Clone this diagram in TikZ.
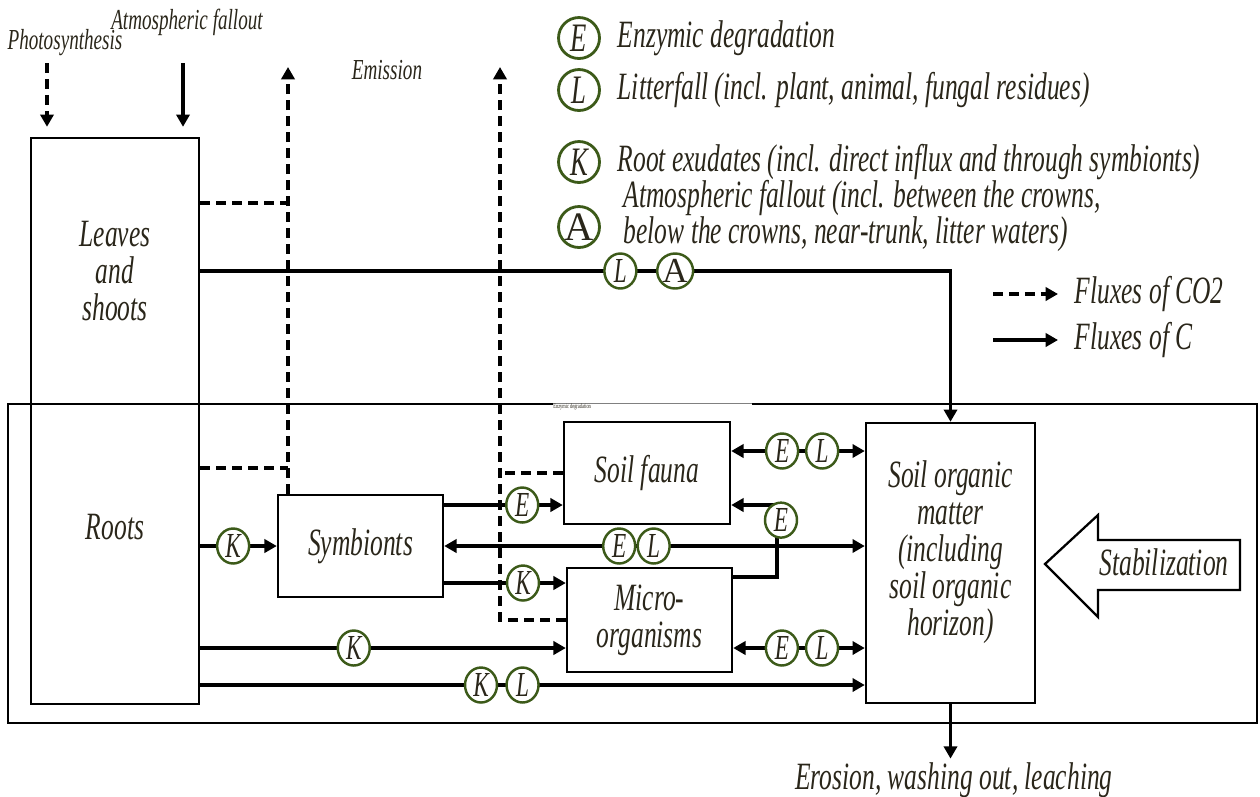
\documentclass[tikz,border=0pt]{standalone}
\usepackage{fontspec}
\setmainfont{Liberation Serif}[FakeStretch=0.66]
\newfontfamily\wideserif{Liberation Serif}
\usepackage{tikz}
\usetikzlibrary{arrows.meta,positioning,shapes.geometric}
\definecolor{ink}{RGB}{42,38,26}
\definecolor{ring}{RGB}{60,90,25}

\begin{document}
\begin{tikzpicture}[
  x=0.02cm, y=-0.02cm,
  box/.style={draw,line width=1.4pt,inner sep=0pt},
  lbl/.style={font=\fontsize{22}{21}\selectfont\itshape,text=ink,align=center,inner sep=2pt},
  small/.style={font=\fontsize{16.5}{17}\selectfont\itshape,text=ink,inner sep=1pt},
  circ/.style={ellipse,draw=ring,line width=1.4pt,fill=white,inner sep=0pt,minimum width=0.64cm,minimum height=0.7cm,font=\fontsize{20}{20}\selectfont\itshape,text=ink},
  keycirc/.style={circle,draw=ring,line width=1.6pt,fill=white,inner sep=0pt,minimum size=0.82cm,font=\fontsize{23}{23}\selectfont\itshape,text=ink},
  carr/.style={-{Triangle[length=7pt,width=7.5pt]},line width=1.9pt},
  cboth/.style={{Triangle[length=7pt,width=7.5pt]}-{Triangle[length=7pt,width=7.5pt]},line width=1.9pt},
  co2line/.style={line width=2.2pt,dash pattern=on 5.7pt off 3.4pt},
  co2/.style={co2line,-{Triangle[length=7pt,width=7.5pt]}}
]
\useasboundingbox (0,0) rectangle (1260,796);

% soil frame
\node[box,line width=1.2pt,minimum width=24.98cm,minimum height=6.38cm] (soil) at (632.5,563.5) {};
\fill[white] (553,400) rectangle (752,409.5);
\draw[gray,line width=0.4pt] (553,403.5) -- (752,403.5);
\node[anchor=west,inner sep=0pt,font=\fontsize{3.8}{4}\selectfont,text=ink] (tiny) at (553,407) {Enzymic degradation};

% pools
\node[box,lbl,minimum width=3.36cm,minimum height=5.32cm] (leaves) at (115,271) {Leaves\\and\\shoots};
\node[box,minimum width=3.36cm,minimum height=6cm] (roots) at (115,554) {};
\node[lbl] (rootstxt) at ([yshift=0.54cm]roots.center) {Roots};
\node[box,lbl,minimum width=3.3cm,minimum height=2.04cm] (sym) at (360.5,546) {Symbionts};
\node[box,lbl,minimum width=3.32cm,minimum height=2.04cm] (fauna) at (647,473) {Soil fauna};
\node[box,lbl,minimum width=3.3cm,minimum height=2.08cm] (micro) at (649.5,620) {Micro-\\organisms};
\node[box,minimum width=3.38cm,minimum height=5.6cm] (som) at (950.5,563) {};
\node[lbl] (somtxt) at ([yshift=0.22cm]som.center) {Soil organic\\matter\\(including\\soil organic\\horizon)};

\draw[line width=1.3pt] (1240,540) -- (1098,540) -- (1098,515) -- (1045,564) -- (1098,617) -- (1098,590) -- (1240,590) -- cycle;
\node[lbl] (stab) at (1164,562) {Stabilization};
\node[lbl] (ero) at (954,780) {Erosion, washing out, leaching};

% inputs and emission
\node[small] (photo) at (65,43) {Photosynthesis};
\node[small] (atm) at (187,22) {Atmospheric fallout};
\node[small] (emis) at (387,70) {Emission};
\coordinate (phs) at (47,63);
\coordinate (atms) at (183,63);
\coordinate (em1) at (288,67);
\coordinate (em2) at (500,67);

\coordinate (lnD1) at (0,203);
\coordinate (lnD2) at (0,468);
\coordinate (lnF) at (0,451);
\coordinate (lnE) at (0,505);
\coordinate (lnMr) at (0,577);
\coordinate (lnK) at (0,583);
\coordinate (lnM) at (0,648);
\coordinate (lnR) at (0,685);
\coordinate (ex) at (777,0);

\draw[co2,shorten >=0.2cm] (phs) -- (phs |- leaves.north);
\draw[carr,shorten >=0.2cm] (atms) -- (atms |- leaves.north);

\draw[co2line] (leaves.east |- lnD1) -- (em1 |- lnD1);
\draw[co2line] (roots.east |- lnD2) -- (em1 |- lnD2);
\draw[co2] (em1 |- sym.north) -- (em1);
\draw[co2line] (fauna.west) -- (em2 |- fauna.west);
\draw[co2] (micro.west) -- (em2 |- micro.west) -- (em2);

% carbon fluxes
\draw[carr] (leaves.east) -- node[circ,pos=0.56]{L} node[circ,pos=0.633]{\wideserif\upshape A} (som.north |- leaves.east) -- (som.north);
\draw[carr] (roots.east |- sym.west) -- node[circ,pos=0.43]{K} (sym.west);
\draw[carr] (sym.east |- lnE) -- node[circ,pos=0.658]{E} (fauna.west |- lnE);
\draw[carr] (sym.east |- lnK) -- node[circ,pos=0.648]{K} (micro.west |- lnK);
\draw[cboth] (sym.east) -- node[circ,pos=0.416]{E} node[circ,pos=0.498]{L} (som.west |- sym.east);
\draw[cboth] (fauna.east |- lnF) -- node[circ,pos=0.381]{E} node[circ,pos=0.681]{L} (som.west |- lnF);
\draw[carr] (micro.east |- lnMr) -- (ex |- lnMr) -- node[circ,pos=0.79,xshift=0.08cm]{E} (ex |- lnE) -- (fauna.east |- lnE);
\draw[carr] (roots.east |- lnM) -- node[circ,pos=0.42]{K} (micro.west |- lnM);
\draw[cboth] (micro.east |- lnM) -- node[circ,pos=0.37]{E} node[circ,pos=0.675]{L} (som.west |- lnM);
\draw[carr] (roots.east |- lnR) -- node[circ,pos=0.4225]{K} node[circ,pos=0.485]{L} (som.west |- lnR);
\draw[carr] (som.south) -- (som.south |- ero.north);

% legend
\node[keycirc] (kE) at (579,38) {E};
\node[keycirc] (kL) at (579,90) {L};
\node[keycirc] (kK) at (579,162) {K};
\node[keycirc] (kA) at (579,227) {\wideserif\upshape A};
\node[lbl,right=0.26cm of kE] (tE) {Enzymic degradation};
\node[lbl,right=0.26cm of kL] (tL) {Litterfall (incl. plant, animal, fungal residues)};
\node[lbl,inner sep=0pt,right=0.33cm of kK] (tK) {Root exudates (incl. direct influx and through symbionts)};
\node[lbl,inner sep=0pt,align=left,right=0.45cm of kA,yshift=0.22cm] (tA) {Atmospheric fallout (incl. between the crowns,\\below the crowns, near-trunk, litter waters)};

\node[lbl,anchor=west] (tco2) at (1071,294) {Fluxes of CO2};
\node[lbl,anchor=west] (tc) at (1071,340) {Fluxes of C};
\coordinate (kco2) at (993,294);
\coordinate (kc) at (993,340);
\draw[co2,shorten >=0.26cm] (kco2) -- (kco2 -| tco2.west);
\draw[carr,shorten >=0.26cm] (kc) -- (kc -| tc.west);

\end{tikzpicture}
\end{document}
